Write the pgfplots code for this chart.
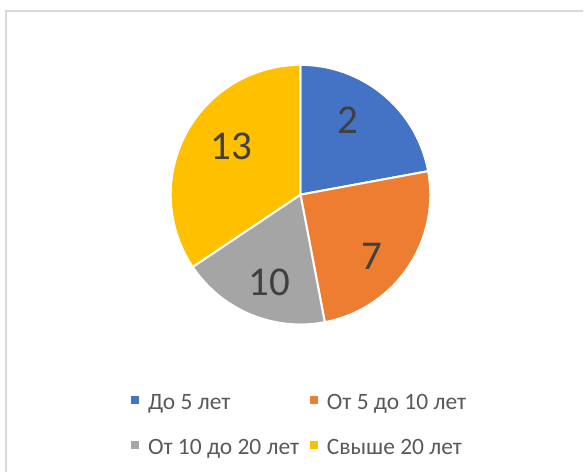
\documentclass[border=0pt]{standalone}
\usepackage{pgfplots}
\usepackage{pgfplotstable}
\pgfplotsset{compat=1.18}
\usepackage{fontspec}
\setmainfont{Carlito}
\definecolor{cblue}{HTML}{4472C4}
\definecolor{corange}{HTML}{ED7D31}
\definecolor{cgray}{HTML}{A5A5A5}
\definecolor{cyellow}{HTML}{FFC000}
\definecolor{lbl}{HTML}{404040}
\definecolor{legtext}{HTML}{595959}
\definecolor{framec}{HTML}{D9D9D9}

\pgfplotstableread{
value share
2 22.1
7 24.9
10 18.6
13 34.4
}\piedata

\begin{document}
\begin{tikzpicture}
\pgfplotstablegetelem{0}{share}\of\piedata \let\sA\pgfplotsretval
\pgfplotstablegetelem{1}{share}\of\piedata \let\sB\pgfplotsretval
\pgfplotstablegetelem{2}{share}\of\piedata \let\sC\pgfplotsretval
\pgfplotstablegetelem{3}{share}\of\piedata \let\sD\pgfplotsretval
\pgfmathsetmacro\aA{90}
\pgfmathsetmacro\aB{\aA-3.6*\sA}
\pgfmathsetmacro\aC{\aB-3.6*\sB}
\pgfmathsetmacro\aD{\aC-3.6*\sC}
\pgfmathsetmacro\aE{\aD-3.6*\sD}
\def\cx{301}
\def\cy{278}
\def\R{130}
\begin{axis}[
  scale only axis, width=584pt, height=473pt,
  xmin=0, xmax=584, ymin=0, ymax=473,
  hide axis, clip=false,
  legend columns=2,
  legend image code/.code={\path[#1,draw=none] (0pt,-4pt) rectangle (8pt,4pt);},
  legend style={at={(axis description cs:0.2243,0.1712)}, anchor=north west,
    draw=none, fill=none, inner sep=0pt, outer sep=0pt,
    font=\fontsize{23.5}{28}\selectfont, text=legtext,
    cells={anchor=west},
    nodes={inner sep=0pt, outer sep=0pt, text height=18pt, text depth=0pt},
    row sep=27pt,
    /tikz/every odd column/.append style={column sep=9.3pt},
    /tikz/every even column/.append style={column sep=10.3pt}},
]
\draw[draw=none] (axis cs:0,0) rectangle (axis cs:584,473);
\draw[framec, line width=2pt] (axis cs:6,0) -- (axis cs:6,462) -- (axis cs:584,462);
\addplot[fill=cblue, draw=white, line width=2pt, domain=\aB:\aA, samples=80]
  ({\cx+\R*cos(x)}, {\cy+\R*sin(x)}) -- (axis cs:\cx,\cy) -- cycle;
\addlegendentry{До 5 лет}
\addplot[fill=corange, draw=white, line width=2pt, domain=\aC:\aB, samples=80]
  ({\cx+\R*cos(x)}, {\cy+\R*sin(x)}) -- (axis cs:\cx,\cy) -- cycle;
\addlegendentry{От 5 до 10 лет}
\addplot[fill=cgray, draw=white, line width=2pt, domain=\aD:\aC, samples=80]
  ({\cx+\R*cos(x)}, {\cy+\R*sin(x)}) -- (axis cs:\cx,\cy) -- cycle;
\addlegendentry{От 10 до 20 лет}
\addplot[fill=cyellow, draw=white, line width=2pt, domain=\aE:\aD, samples=80]
  ({\cx+\R*cos(x)}, {\cy+\R*sin(x)}) -- (axis cs:\cx,\cy) -- cycle;
\addlegendentry{Свыше 20 лет}
\node[lbl, font=\fontsize{41}{41}\selectfont] at (axis cs:348,353) {2};
\node[lbl, font=\fontsize{41}{41}\selectfont] at (axis cs:373,216) {7};
\node[lbl, font=\fontsize{41}{41}\selectfont] at (axis cs:270,190) {10};
\node[lbl, font=\fontsize{41}{41}\selectfont] at (axis cs:232,326) {13};
\end{axis}
\end{tikzpicture}
\end{document}
